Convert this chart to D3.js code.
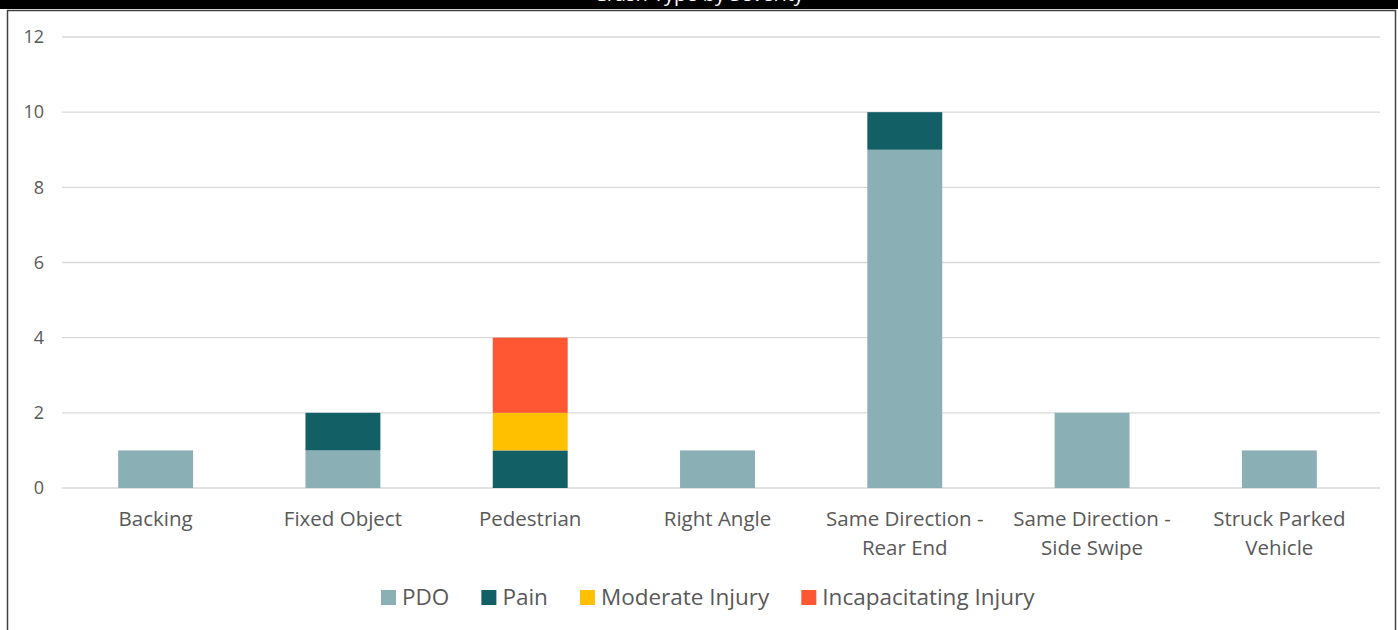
<!DOCTYPE html>
<html>
<head>
<meta charset="utf-8">
<script src="https://cdn.jsdelivr.net/npm/d3@7"></script>
<style>
  body { margin: 0; background: #fff; }
  svg { display: block; font-family: "Open Sans", sans-serif; }
</style>
</head>
<body>
<svg id="chart" width="1398" height="630"></svg>
<script>
const categories = [["Backing"], ["Fixed Object"], ["Pedestrian"], ["Right Angle"],
  ["Same Direction -", "Rear End"], ["Same Direction -", "Side Swipe"], ["Struck Parked", "Vehicle"]];
const seriesNames = ["PDO", "Pain", "Moderate Injury", "Incapacitating Injury"];
const colors = ["#8aafb4", "#135f66", "#ffc000", "#ff5733"];
const pdo = [1, 1, 0, 1, 9, 2, 1];
const pain = [0, 1, 1, 0, 1, 0, 0];
const moderate = [0, 0, 1, 0, 0, 0, 0];
const incap = [0, 0, 2, 0, 0, 0, 0];
const yTicks = [0, 2, 4, 6, 8, 10, 12];

const width = 1398, height = 630;
const margin = {top: 37, right: 25, bottom: 142, left: 62};
const gridRight = 1380;

const svg = d3.select("#chart");

// frame + title bar (title is cut off at the top, as in the source)
svg.append("rect").attr("x", 7.5).attr("y", 10.5).attr("width", 1388).attr("height", 630)
    .attr("fill", "#fff").attr("stroke", "#404040").attr("stroke-width", 1.5);
svg.append("rect").attr("x", 0).attr("y", 0).attr("width", width).attr("height", 9).attr("fill", "#000");
svg.append("text").attr("x", 699).attr("y", 1).attr("text-anchor", "middle")
    .attr("fill", "#fff").attr("font-size", 20).text("Crash Type by Severity");

const rows = categories.map((c, i) => ({
  key: i, PDO: pdo[i], Pain: pain[i], "Moderate Injury": moderate[i], "Incapacitating Injury": incap[i]
}));

const x = d3.scaleBand()
    .domain(d3.range(categories.length))
    .range([margin.left, width - margin.right])
    .paddingInner(0.6).paddingOuter(0.3);
const y = d3.scaleLinear().domain([0, 12]).range([height - margin.bottom, margin.top]);

// gridlines
svg.append("g").selectAll("line").data(yTicks).enter().append("line")
    .attr("x1", margin.left).attr("x2", gridRight)
    .attr("y1", d => y(d)).attr("y2", d => y(d))
    .attr("stroke", "#d9d9d9").attr("stroke-width", 1.3);

svg.append("g").selectAll("text").data(yTicks).enter().append("text")
    .attr("x", 44).attr("y", d => y(d)).attr("dy", "0.35em")
    .attr("text-anchor", "end").attr("fill", "#595959").attr("font-size", 18)
    .text(d => d);

const stack = d3.stack().keys(seriesNames)(rows);

svg.append("g").selectAll("g").data(stack).enter().append("g")
    .attr("fill", (d, i) => colors[i])
  .selectAll("rect").data(d => d).enter().append("rect")
    .attr("x", d => x(d.data.key))
    .attr("width", x.bandwidth())
    .attr("y", d => y(d[1]))
    .attr("height", d => y(d[0]) - y(d[1]));

// category labels
const cat = svg.append("g").selectAll("text").data(categories).enter().append("text")
    .attr("x", (d, i) => x(i) + x.bandwidth() / 2)
    .attr("y", 526)
    .attr("text-anchor", "middle").attr("fill", "#595959").attr("font-size", 20.5);
cat.selectAll("tspan").data(d => d).enter().append("tspan")
    .attr("x", function() { return this.parentNode.getAttribute("x"); })
    .attr("dy", (d, i) => i ? 29 : 0)
    .text(d => d);

// legend, laid out by measured text widths
const lg = svg.append("g");
let lx = 381;
seriesNames.forEach((name, i) => {
  lg.append("rect").attr("x", lx).attr("y", 590).attr("width", 15).attr("height", 15)
      .attr("fill", colors[i]);
  const t = lg.append("text").attr("x", lx + 21).attr("y", 597.5).attr("dy", "0.35em")
      .attr("fill", "#595959").attr("font-size", 22.5).text(name);
  lx += 21 + t.node().getComputedTextLength() + 32;
});
</script>
</body>
</html>
